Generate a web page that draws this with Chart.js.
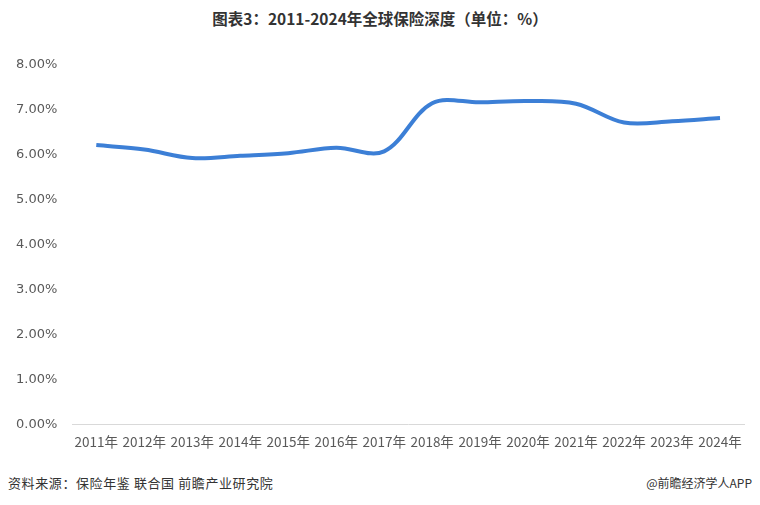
<!DOCTYPE html>
<html>
<head>
<meta charset="utf-8">
<script src="https://cdn.jsdelivr.net/npm/chart.js@4"></script>
<style>
  body { margin: 0; background: #fff; font-family: "Noto Sans CJK SC", sans-serif; }
  #wrap { position: relative; width: 760px; height: 505px; }
  #title { position: absolute; top: 7px; left: 0; width: 760px; text-align: center; font-size: 15.5px; font-weight: bold; color: #333; }
  #c { position: absolute; left: 0; top: 46px; }
  .foot { position: absolute; top: 473px; font-size: 13px; color: #333; }
</style>
</head>
<body>
<div id="wrap">
  <div id="title">图表3：2011-2024年全球保险深度（单位：%）</div>
  <canvas id="c" width="760" height="405"></canvas>
  <div class="foot" style="left:8px; letter-spacing:0.6px">资料来源：保险年鉴 联合国 前瞻产业研究院</div>
  <div class="foot" style="right:8px; font-size:12px; top:474px">@前瞻经济学人APP</div>
</div>
<script>
const years = ["2011年", "2012年", "2013年", "2014年", "2015年", "2016年", "2017年",
  "2018年", "2019年", "2020年", "2021年", "2022年", "2023年", "2024年"];
const depth = [6.22, 6.12, 5.93, 5.98, 6.04, 6.16, 6.08, 7.15, 7.17, 7.20, 7.14, 6.72, 6.75, 6.82];
const yTicks = [0, 1, 2, 3, 4, 5, 6, 7, 8];

new Chart(document.getElementById("c"), {
  type: "line",
  data: {
    labels: years,
    datasets: [{
      data: depth,
      borderColor: "#3C7FD6",
      borderWidth: 4,
      pointRadius: 0,
      tension: 0.35,
      fill: false,
    }],
  },
  options: {
    responsive: false,
    animation: false,
    layout: { padding: { left: 9, right: 16, top: 19, bottom: 0 } },
    plugins: { legend: { display: false }, tooltip: { enabled: false } },
    scales: {
      x: {
        offset: true,
        grid: { display: false },
        border: { display: true, color: "#d9d9d9" },
        ticks: { color: "#595959", font: { size: 13.5, family: "Noto Sans CJK SC" }, maxRotation: 0, autoSkip: false, padding: 1 },
      },
      y: {
        min: 0,
        max: 8,
        afterBuildTicks: (axis) => { axis.ticks = yTicks.map((v) => ({ value: v })); },
        grid: { display: false },
        border: { display: false },
        ticks: { color: "#595959", font: { size: 13, family: "Verdana, DejaVu Sans" }, padding: 7, callback: (v) => v.toFixed(2) + "%" },
      },
    },
  },
});
</script>
</body>
</html>
